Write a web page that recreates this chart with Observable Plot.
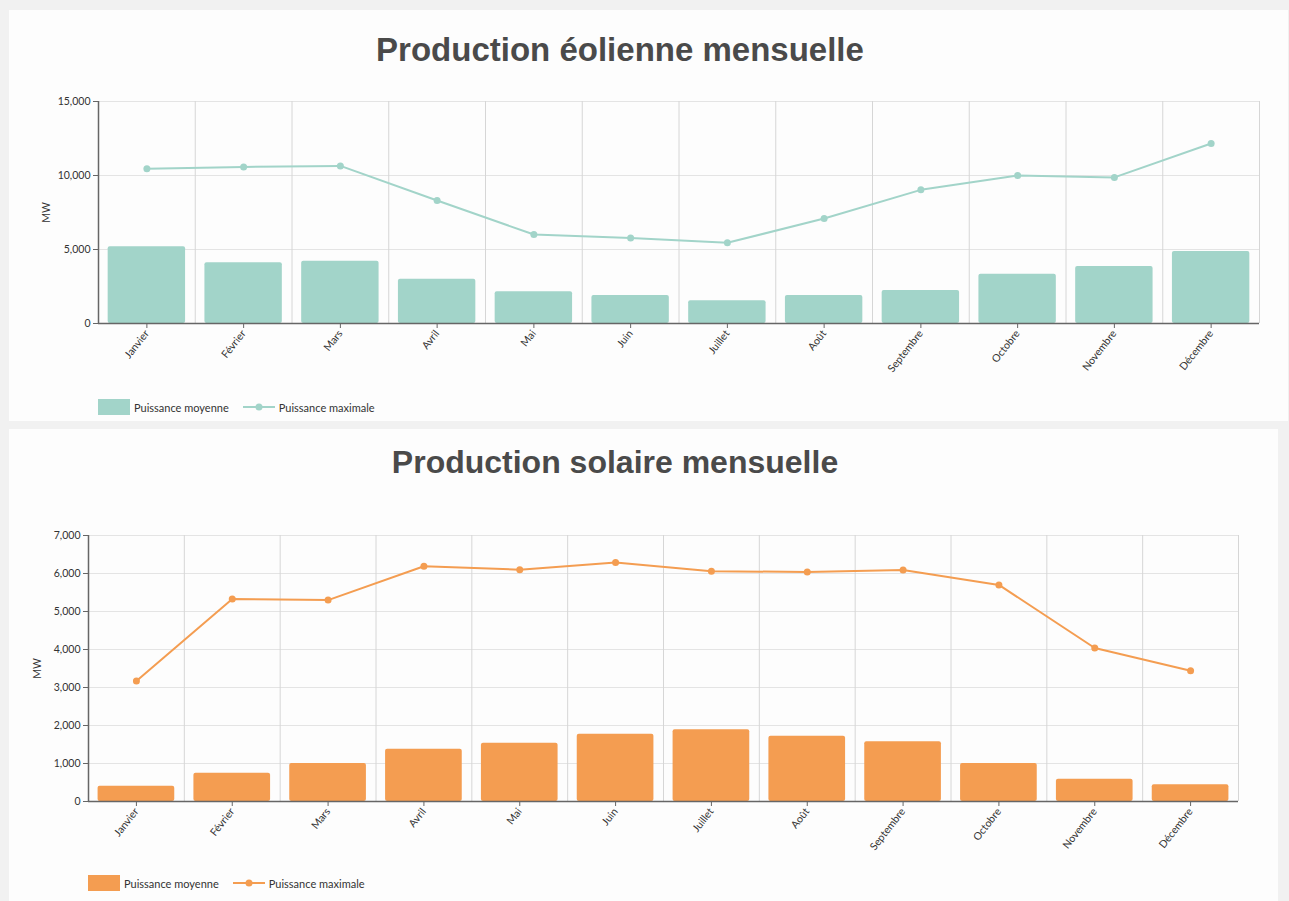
<!DOCTYPE html>
<html lang="fr">
<head>
<meta charset="utf-8">
<script src="https://cdn.jsdelivr.net/npm/d3@7"></script>
<script src="https://cdn.jsdelivr.net/npm/@observablehq/plot@0.6"></script>
<style>
  html, body { margin: 0; padding: 0; background: #f1f1f1; }
  body { width: 1289px; height: 901px; position: relative; overflow: hidden; font-family: Lato, "Open Sans", sans-serif; }
  .panel { position: absolute; background: #fdfdfd; }
  .title { position: absolute; left: 0; text-align: center; font-family: "Liberation Sans", Arial, sans-serif; font-weight: bold; line-height: 34px; color: #4a4a4a; }
  .chart { position: absolute; left: 0; }
  .legend { position: absolute; display: flex; align-items: center; font-family: Lato, sans-serif; font-size: 11px; color: #333; }
  .legend .sw { width: 32px; height: 16px; margin-right: 4px; }
  .legend .lab { margin-right: 14px; }
  .legend svg { margin-right: 4px; }
</style>
</head>
<body>
<div class="panel" style="left:9px;top:10px;width:1279px;height:411px;"></div>
<div class="panel" style="left:9px;top:429px;width:1269px;height:472px;"></div>
<div class="title" style="top:33px;width:1240px;font-size:33px;">Production éolienne mensuelle</div>
<div class="title" style="top:445px;width:1230px;font-size:32px;">Production solaire mensuelle</div>
<div id="c1" class="chart" style="top:80px;"></div>
<div id="c2" class="chart" style="top:520px;"></div>
<div id="l1" class="legend" style="left:98px;top:399px;"></div>
<div id="l2" class="legend" style="left:88px;top:875px;"></div>
<script>
const months = ["Janvier","Février","Mars","Avril","Mai","Juin","Juillet","Août","Septembre","Octobre","Novembre","Décembre"];
const eolMoy = [5180, 4100, 4210, 2990, 2140, 1890, 1530, 1890, 2230, 3330, 3850, 4870];
const eolMax = [10450, 10580, 10650, 8310, 6010, 5780, 5450, 7100, 9030, 10000, 9870, 12160];
const solMoy = [400, 745, 1000, 1375, 1535, 1770, 1890, 1715, 1575, 1000, 585, 440];
const solMax = [3170, 5330, 5300, 6190, 6100, 6290, 6060, 6040, 6090, 5700, 4040, 3440];
const eolTicks = [0, 5000, 10000, 15000];
const solTicks = [0, 1000, 2000, 3000, 4000, 5000, 6000, 7000];
const seriesLabels = ["Puissance moyenne", "Puissance maximale"];

const teal = "#a2d4c9";
const orange = "#f49d51";

function makeChart(moy, max, ticks, color, opts) {
  const data = months.map((m, i) => ({month: m, moy: moy[i], max: max[i]}));
  const W = 1289;
  const step = (W - opts.marginLeft - opts.marginRight) / months.length;
  return Plot.plot({
    width: W,
    height: opts.height,
    marginLeft: opts.marginLeft,
    marginRight: opts.marginRight,
    marginTop: opts.marginTop,
    marginBottom: opts.marginBottom,
    style: {fontFamily: "Lato, sans-serif", fontSize: "10.5px", color: "#333", background: "transparent"},
    x: {domain: months, paddingInner: 0.2, paddingOuter: 0.1, round: false},
    y: {domain: [ticks[0], ticks[ticks.length - 1]]},
    marks: [
      Plot.gridY(ticks, {stroke: "#e4e4e4", strokeOpacity: 1}),
      Plot.ruleX(months, {x: d => d, dx: step / 2, stroke: "#d6d6d6"}),
      Plot.ruleX([months[0]], {x: d => d, dx: -step / 2, stroke: "#666", strokeWidth: 1.5}),
      Plot.barY(data, {x: "month", y: "moy", fill: color, rx: 2}),
      Plot.line(data, {x: "month", y: "max", stroke: color, strokeWidth: 2}),
      Plot.dot(data, {x: "month", y: "max", fill: color, r: 3.5}),
      Plot.ruleY([0], {stroke: "#666", strokeWidth: 1.5}),
      Plot.axisY({ticks: ticks, tickFormat: d3.format(","), tickSize: 5, tickPadding: 3, stroke: "#666",
        label: "MW", labelAnchor: "center", labelOffset: opts.labelOffset, labelArrow: "none"}),
      Plot.axisX({tickSize: 5, tickPadding: 3, tickRotate: -52, stroke: "#666", label: null})
    ]
  });
}

document.getElementById("c1").append(makeChart(eolMoy, eolMax, eolTicks, teal,
  {height: 320, marginLeft: 98, marginRight: 30, marginTop: 21, marginBottom: 77, labelOffset: 56}));
document.getElementById("c2").append(makeChart(solMoy, solMax, solTicks, orange,
  {height: 351, marginLeft: 88, marginRight: 51, marginTop: 15, marginBottom: 70, labelOffset: 55}));

function legend(id, color) {
  const el = document.getElementById(id);
  el.innerHTML =
    `<div class="sw" style="background:${color}"></div><span class="lab">${seriesLabels[0]}</span>` +
    `<svg width="32" height="16"><line x1="0" x2="32" y1="8" y2="8" stroke="${color}" stroke-width="2"/><circle cx="16" cy="8" r="3.5" fill="${color}"/></svg><span class="lab">${seriesLabels[1]}</span>`;
}
legend("l1", teal);
legend("l2", orange);
</script>
</body>
</html>
